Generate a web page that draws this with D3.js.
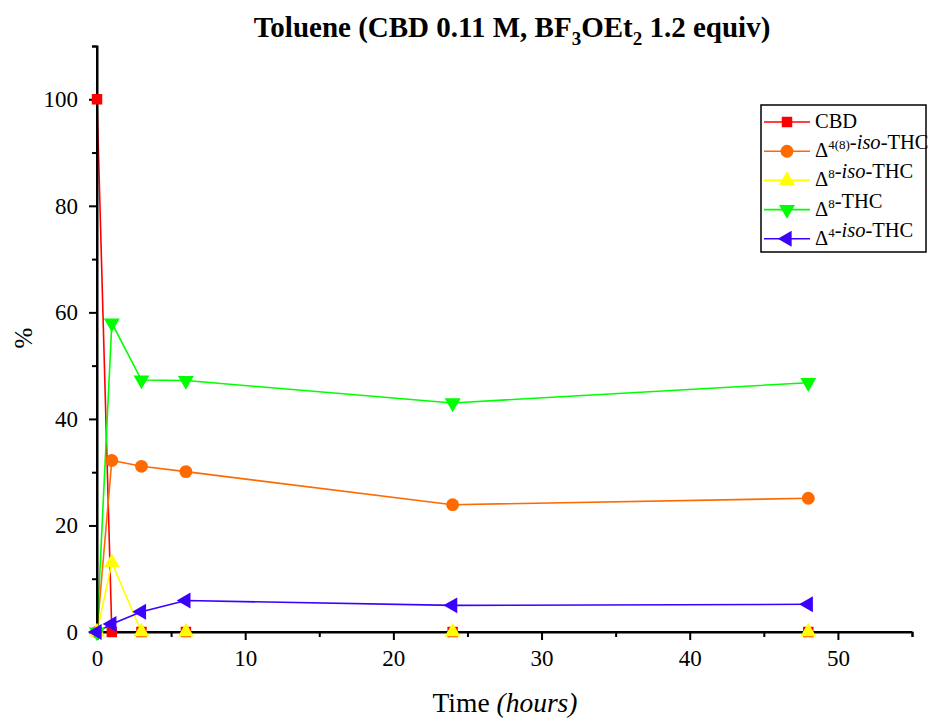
<!DOCTYPE html>
<html>
<head>
<meta charset="utf-8">
<script src="https://cdn.jsdelivr.net/npm/d3@7.9.0/dist/d3.min.js"></script>
<style>
  body { margin: 0; background: #fff; }
</style>
</head>
<body>
<svg id="chart" width="930" height="718" font-family="Liberation Serif, serif"></svg>
<script>
const hours = [0, 1, 3, 6, 24, 48];
const cbd = [100, 0, 0, 0, 0, 0];
const iso48 = [0, 32.2, 31.1, 30.1, 23.9, 25.1];
const iso8 = [0, 13, 0, 0, 0, 0];
const thc8 = [0, 58, 47.3, 47.2, 43, 46.8];
const iso4 = [0, 1.5, 3.8, 5.9, 5.0, 5.2];

const xTicks = [0, 10, 20, 30, 40, 50];
const yTicks = [0, 20, 40, 60, 80, 100];

const legendLabels = [
  [{ t: "CBD" }],
  [{ t: "Δ" }, { t: "4(8)", sup: true }, { t: "-" }, { t: "iso", it: true }, { t: "-THC" }],
  [{ t: "Δ" }, { t: "8", sup: true }, { t: "-" }, { t: "iso", it: true }, { t: "-THC" }],
  [{ t: "Δ" }, { t: "8", sup: true }, { t: "-THC" }],
  [{ t: "Δ" }, { t: "4", sup: true }, { t: "-" }, { t: "iso", it: true }, { t: "-THC" }],
];

const series = [
  { values: cbd, color: "#ff0000", symbol: d3.symbolSquare, size: 110, rotate: 0 },
  { values: iso48, color: "#ff6a00", symbol: d3.symbolCircle, size: 130, rotate: 0 },
  { values: iso8, color: "#ffff00", symbol: d3.symbolTriangle, size: 110, rotate: 0 },
  { values: thc8, color: "#00ff00", symbol: d3.symbolTriangle, size: 110, rotate: 180 },
  { values: iso4, color: "#3c00ff", symbol: d3.symbolTriangle, size: 110, rotate: -90 },
];

const svg = d3.select("#chart");
const x = d3.scaleLinear().domain([0, 55]).range([97, 912]);
const y = d3.scaleLinear().domain([0, 110]).range([632, 46]);

// series lines
const line = d3.line().x((d) => x(d[0])).y((d) => y(d[1]));

series.forEach((s) => {
  const pts = hours.map((h, i) => [h, s.values[i]]);
  svg.append("path")
    .attr("d", line(pts))
    .attr("fill", "none")
    .attr("stroke", s.color)
    .attr("stroke-width", 1.6);
});

// axes
const yAxis = d3.axisLeft(y).tickValues(yTicks).tickSize(8).tickPadding(11);
const yMinor = d3.axisLeft(y).tickValues(d3.range(10, 111, 20)).tickSize(5).tickFormat("");
const xAxis = d3.axisBottom(x).tickValues(xTicks).tickSize(8).tickPadding(10);
const xMinor = d3.axisBottom(x).tickValues(d3.range(5, 56, 10)).tickSize(5).tickFormat("");

function styleAxis(g) {
  g.attr("font-family", "Liberation Serif, serif").attr("font-size", 23);
  g.select(".domain").attr("stroke", "#000").attr("stroke-width", 2);
  g.selectAll(".tick line").attr("stroke", "#000").attr("stroke-width", 2);
  g.selectAll(".tick text").attr("fill", "#000");
}

svg.append("g").attr("transform", "translate(97,0)").call(yMinor).call(styleAxis);
svg.append("g").attr("transform", "translate(97,0)").call(yAxis).call(styleAxis)
  .select(".domain").attr("d", "M0,632V46");
svg.append("g").attr("transform", "translate(0,632)").call(xMinor).call(styleAxis);
svg.append("g").attr("transform", "translate(0,632)").call(xAxis).call(styleAxis)
  .select(".domain").attr("d", "M97,0H912");

// markers on top of axes
series.forEach((s) => {
  const sym = d3.symbol().type(s.symbol).size(s.size);
  svg.append("g")
    .selectAll("path")
    .data(hours.map((h, i) => [h, s.values[i]]))
    .join("path")
    .attr("d", sym)
    .attr("fill", s.color)
    .attr("transform", (d) => `translate(${x(d[0])},${y(d[1])}) rotate(${s.rotate})`);
});

// title
const title = svg.append("text")
  .attr("x", 512).attr("y", 37)
  .attr("text-anchor", "middle")
  .attr("font-size", 29)
  .attr("font-weight", "bold");
title.append("tspan").text("Toluene (CBD 0.11 M, BF");
title.append("tspan").attr("dy", 8).attr("font-size", 19).text("3");
title.append("tspan").attr("dy", -8).text("OEt");
title.append("tspan").attr("dy", 8).attr("font-size", 19).text("2");
title.append("tspan").attr("dy", -8).text(" 1.2 equiv)");

// axis labels
svg.append("text")
  .attr("transform", "translate(32,338) rotate(-90)")
  .attr("text-anchor", "middle")
  .attr("font-size", 25)
  .text("%");

const xl = svg.append("text")
  .attr("x", 505).attr("y", 712)
  .attr("text-anchor", "middle")
  .attr("font-size", 27.5);
xl.append("tspan").text("Time ");
xl.append("tspan").attr("font-style", "italic").text("(hours)");

// legend
const legend = svg.append("g");
legend.append("rect")
  .attr("x", 761).attr("y", 105)
  .attr("width", 165).attr("height", 147)
  .attr("fill", "#fff")
  .attr("stroke", "#000")
  .attr("stroke-width", 1.5);

series.forEach((s, i) => {
  const ly = 122 + i * 29.2;
  legend.append("line")
    .attr("x1", 764).attr("x2", 810)
    .attr("y1", ly).attr("y2", ly)
    .attr("stroke", s.color).attr("stroke-width", 1.6);
  legend.append("path")
    .attr("d", d3.symbol().type(s.symbol).size(s.size)())
    .attr("fill", s.color)
    .attr("transform", `translate(787,${ly}) rotate(${s.rotate})`);
  const t = legend.append("text")
    .attr("x", 815).attr("y", ly + 6)
    .attr("font-size", 20.5);
  legendLabels[i].forEach((p) => {
    const span = t.append("tspan").text(p.t);
    if (p.it) span.attr("font-style", "italic");
    if (p.sup) {
      span.attr("dy", -8).attr("font-size", 13);
      t.append("tspan").attr("dy", 8).text("");
    }
  });
});
</script>
</body>
</html>
